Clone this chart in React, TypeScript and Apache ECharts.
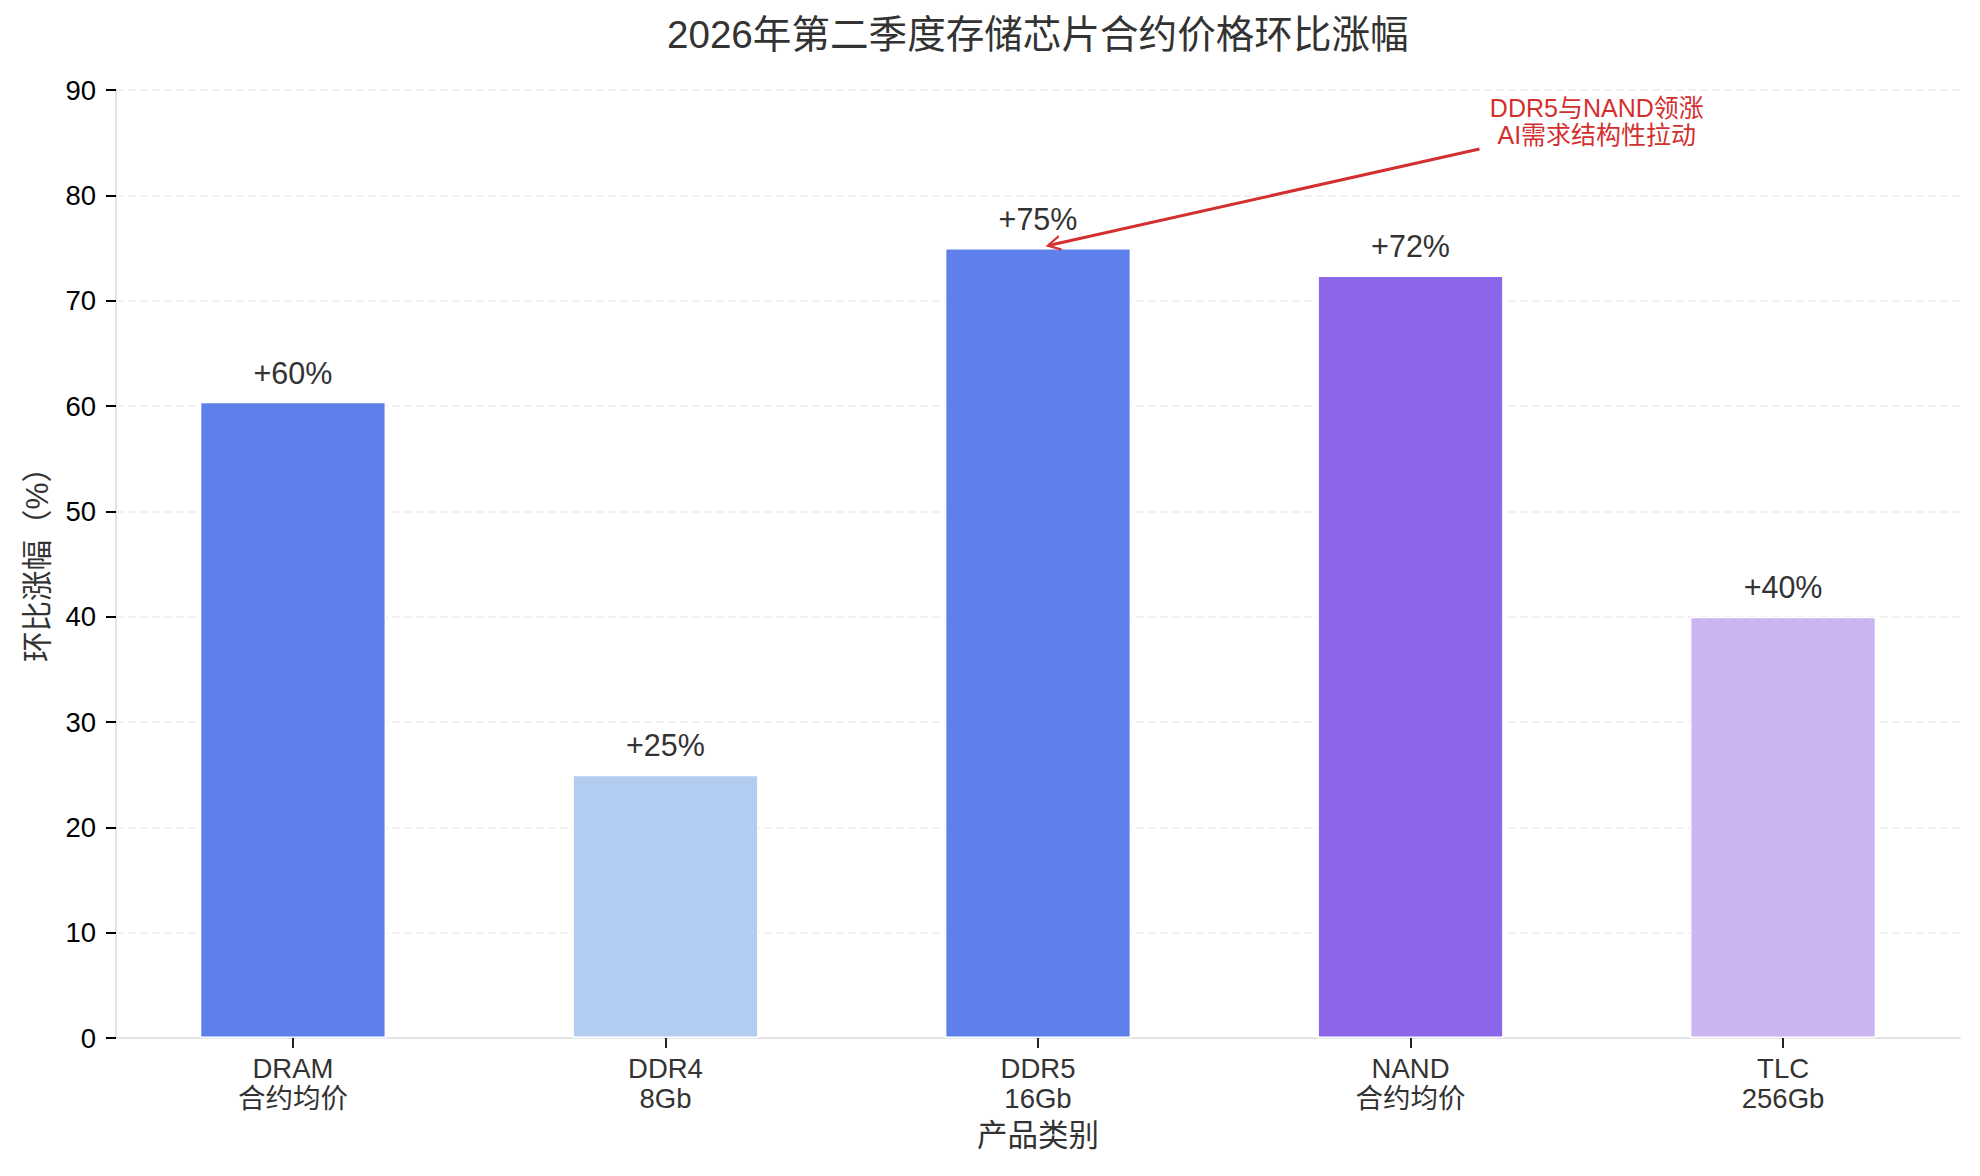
import { useEffect, useRef } from 'react';
import * as echarts from 'echarts';

const FONT = "'Liberation Sans', 'Noto Sans CJK SC', sans-serif";

const TITLE = '2026年第二季度存储芯片合约价格环比涨幅';
const X_NAME = '产品类别';
const Y_NAME = '环比涨幅（%）';

const categories = ['DRAM\n合约均价', 'DDR4\n8Gb', 'DDR5\n16Gb', 'NAND\n合约均价', 'TLC\n256Gb'];
const values = [60.4, 25, 75, 72.4, 40];
const barColors = ['#5F80EA', '#B3CCF2', '#5F80EA', '#8C66E8', '#CBB5F1'];

const Y_MIN = 0;
const Y_MAX = 90;
const Y_STEP = 10;

const annotationLines = ['DDR5与NAND领涨', 'AI需求结构性拉动'];
const annotationAt = [3.5, 87];
const arrowFrom = [3.185, 84.4];
const arrowTo = [2.04, 75.33];

const ARROW_PATH =
  'path://M5,0 L10,10 L8.5,10 L5.6,4.2 L5.6,10 L4.4,10 L4.4,4.2 L1.5,10 L0,10 Z';

export default function App() {
  const ref = useRef<HTMLDivElement>(null);

  useEffect(() => {
    if (!ref.current) return;
    const chart = echarts.init(ref.current, null, { renderer: 'svg' });
    const positions = categories.map((_, i) => i);

    const option: any = {
      animation: false,
      backgroundColor: '#ffffff',
      textStyle: { fontFamily: FONT },
      title: {
        text: TITLE,
        left: 667,
        top: 15,
        padding: 0,
        textStyle: { fontFamily: FONT, fontSize: 38.6, fontWeight: 'normal', color: '#333333' },
      },
      grid: { left: 116, right: 20, top: 90, bottom: 138, containLabel: false },
      xAxis: {
        type: 'value',
        min: -0.475,
        max: 4.475,
        name: X_NAME,
        nameLocation: 'middle',
        nameGap: 82,
        nameTextStyle: { fontFamily: FONT, fontSize: 30.5, color: '#333333' },
        axisLine: { show: true, onZero: false, lineStyle: { color: '#e3e3e3', width: 2 } },
        axisTick: { show: true, length: 10, customValues: positions, lineStyle: { color: '#222222', width: 2 } },
        axisLabel: {
          customValues: positions,
          formatter: (v: number) => categories[Math.round(v)] ?? '',
          fontFamily: FONT,
          fontSize: 27.5,
          lineHeight: 30,
          color: '#333333',
          margin: 15,
        },
        splitLine: { show: false },
      },
      yAxis: {
        type: 'value',
        min: Y_MIN,
        max: Y_MAX,
        interval: Y_STEP,
        name: Y_NAME,
        nameLocation: 'middle',
        nameGap: 64,
        nameTextStyle: { fontFamily: FONT, fontSize: 30.5, color: '#333333', padding: [0, 0, 0, 14] },
        axisLine: { show: true, onZero: false, lineStyle: { color: '#e3e3e3', width: 2 } },
        axisTick: { show: true, length: 10, lineStyle: { color: '#000000', width: 2 } },
        axisLabel: { fontFamily: FONT, fontSize: 27.5, color: '#000000', margin: 20 },
        splitLine: { show: true, lineStyle: { color: '#ececec', width: 1.5, type: [8, 4] } },
      },
      series: [
        {
          type: 'bar',
          barWidth: '50%',
          data: values.map((v, i) => ({ value: [i, v], itemStyle: { color: barColors[i] } })),
          itemStyle: { borderColor: '#ffffff', borderWidth: 1.5 },
          label: {
            show: true,
            position: 'top',
            distance: 14,
            formatter: (p: any) => `+${Math.round(p.value[1])}%`,
            fontFamily: FONT,
            fontSize: 30.5,
            color: '#333333',
          },
          markLine: {
            silent: true,
            symbol: ['none', ARROW_PATH],
            symbolSize: [16, 15],
            label: { show: false },
            lineStyle: { color: '#d32f2f', width: 3, type: 'solid' },
            emphasis: { disabled: true },
            data: [[{ coord: arrowFrom }, { coord: arrowTo }]],
          },
          markPoint: {
            silent: true,
            symbol: 'circle',
            symbolSize: 1,
            itemStyle: { color: 'rgba(0,0,0,0)' },
            label: {
              show: true,
              position: 'inside',
              formatter: annotationLines.join('\n'),
              fontFamily: FONT,
              fontSize: 25,
              lineHeight: 27,
              color: '#d32f2f',
            },
            data: [{ coord: annotationAt, value: 0 }],
          },
        },
      ],
    };

    chart.setOption(option);
    return () => chart.dispose();
  }, []);

  return (
    <div
      ref={ref}
      style={{ position: 'fixed', left: 0, top: 0, width: 1980, height: 1176, background: '#fff' }}
    />
  );
}
